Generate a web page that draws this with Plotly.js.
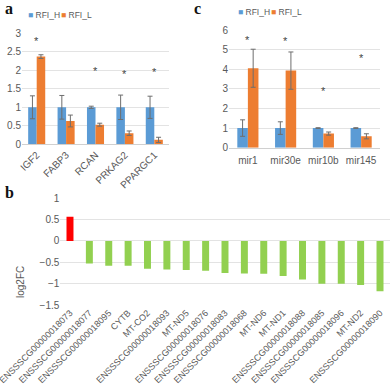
<!DOCTYPE html>
<html>
<head>
<meta charset="utf-8">
<script src="https://cdn.plot.ly/plotly-3.0.1.min.js"></script>
<style>
  html, body { margin: 0; padding: 0; background: #fff; }
  #chart { width: 392px; height: 391px; }
</style>
</head>
<body>
<div id="chart"></div>
<script>
// Panel a: mRNA relative expression
const genesA = ['IGF2', 'FABP3', 'RCAN', 'PRKAG2', 'PPARGC1'];
const rfiHA = [1, 1, 1, 1, 1];
const rfiHAErr = [0.31, 0.32, 0.03, 0.33, 0.30];
const rfiLA = [2.37, 0.63, 0.53, 0.30, 0.12];
const rfiLAErr = [0.05, 0.16, 0.04, 0.06, 0.07];
const starA = [2.87, null, 2.07, 1.98, 2.03];

// Panel c: miRNA relative expression
const mirC = ['mir1', 'mir30e', 'mir10b', 'mir145'];
const rfiHC = [1, 1, 1, 1];
const rfiHCErr = [0.42, 0.32, 0.02, 0.02];
const rfiLC = [4.05, 3.93, 0.72, 0.58];
const rfiLCErr = [0.97, 0.95, 0.08, 0.13];
const starC = [5.66, 5.58, 3.05, 4.73];

// Panel b: log2 fold change
const genesB = ['ENSSSCG00000018073', 'ENSSSCG00000018077', 'ENSSSCG00000018095', 'CYTB',
  'MT-CO2', 'ENSSSCG00000018093', 'MT-ND5', 'ENSSSCG00000018076', 'ENSSSCG00000018083',
  'ENSSSCG00000018068', 'MT-ND6', 'MT-ND1', 'ENSSSCG00000018088', 'ENSSSCG00000018085',
  'ENSSSCG00000018096', 'MT-ND2', 'ENSSSCG00000018090'];
const log2FC = [0.57, -0.53, -0.58, -0.58, -0.65, -0.67, -0.68, -0.70, -0.75, -0.76,
  -0.77, -0.82, -0.90, -1.00, -1.00, -1.03, -1.18];

const BLUE = '#5B9BD5', ORANGE = '#ED7D31', GREEN = '#92D050', RED = '#FF0000';
const TXT = '#595959', GRID = '#E3E3E3', ERR = '#6E6E6E';
const FONT = 'Liberation Sans, Arial, sans-serif';

function errBars(arr) {
  return { type: 'data', array: arr, visible: true, color: ERR, thickness: 1, width: 2.5 };
}

const traces = [
  { type: 'bar', x: genesA, y: rfiHA, name: 'RFI_H', marker: { color: BLUE },
    width: 0.29, offset: -0.29, error_y: errBars(rfiHAErr), xaxis: 'x', yaxis: 'y',
    showlegend: false, hoverinfo: 'x+y' },
  { type: 'bar', x: genesA, y: rfiLA, name: 'RFI_L', marker: { color: ORANGE },
    width: 0.29, offset: 0, error_y: errBars(rfiLAErr), xaxis: 'x', yaxis: 'y',
    showlegend: false, hoverinfo: 'x+y' },
  { type: 'bar', x: mirC, y: rfiHC, name: 'RFI_H', marker: { color: BLUE },
    width: 0.28, offset: -0.28, error_y: errBars(rfiHCErr), xaxis: 'x2', yaxis: 'y2',
    showlegend: false, hoverinfo: 'x+y' },
  { type: 'bar', x: mirC, y: rfiLC, name: 'RFI_L', marker: { color: ORANGE },
    width: 0.28, offset: 0, error_y: errBars(rfiLCErr), xaxis: 'x2', yaxis: 'y2',
    showlegend: false, hoverinfo: 'x+y' },
  { type: 'bar', x: genesB, y: log2FC, name: 'log2FC',
    marker: { color: log2FC.map(v => v > 0 ? RED : GREEN) },
    width: 0.36, xaxis: 'x3', yaxis: 'y3', showlegend: false, hoverinfo: 'x+y' }
];

// significance marks
const annotations = [];
genesA.forEach((g, i) => {
  if (starA[i] !== null) annotations.push({ x: g, y: starA[i], xref: 'x', yref: 'y',
    text: '*', showarrow: false, yshift: -3, font: { size: 11, color: '#444', family: FONT } });
});
mirC.forEach((m, i) => {
  annotations.push({ x: m, y: starC[i], xref: 'x2', yref: 'y2',
    text: '*', showarrow: false, yshift: -3, font: { size: 11, color: '#444', family: FONT } });
});

// series keys
function key(x, y, color, label) {
  annotations.push({ xref: 'paper', yref: 'paper', x: x, y: y, xanchor: 'left', yanchor: 'middle',
    showarrow: false, text: '<span style="color:' + color + '">■</span> ' + label,
    font: { size: 8.5, color: TXT, family: FONT } });
}
key(26 / 392, 1 - 15 / 391, BLUE, 'RFI_H');
key(59 / 392, 1 - 15 / 391, ORANGE, 'RFI_L');
key(236 / 392, 1 - 12 / 391, BLUE, 'RFI_H');
key(269 / 392, 1 - 12 / 391, ORANGE, 'RFI_L');

// panel letters
[['a', 3, 9], ['c', 192, 9], ['b', 3, 193]].forEach(([t, px, py]) => {
  annotations.push({ xref: 'paper', yref: 'paper', x: px / 392, y: 1 - py / 391,
    xanchor: 'left', yanchor: 'middle', showarrow: false, text: '<b>' + t + '</b>',
    font: { size: 16, color: '#111', family: 'Liberation Serif, serif' } });
});

// y title for panel b
annotations.push({ xref: 'paper', yref: 'paper', x: 20 / 392, y: 1 - 282 / 391,
  xanchor: 'center', yanchor: 'middle', showarrow: false, text: 'log2FC', textangle: -90,
  font: { size: 10, color: TXT, family: FONT } });

const tickFont = { size: 10, color: TXT, family: FONT };
const yCommon = { showgrid: true, gridcolor: GRID, gridwidth: 1, zeroline: false,
  showline: false, ticks: '', tickfont: tickFont, fixedrange: true };
const xCommon = { showgrid: false, zeroline: false, showline: true, linecolor: '#D0D0D0',
  linewidth: 1, ticks: '', tickfont: tickFont, fixedrange: true };

const layout = {
  width: 392, height: 391,
  margin: { l: 0, r: 0, t: 0, b: 0 },
  paper_bgcolor: '#fff', plot_bgcolor: '#fff',
  barmode: 'group',
  showlegend: false,
  font: { family: FONT, color: TXT },
  xaxis: Object.assign({}, xCommon, { domain: [22 / 392, 169 / 392], anchor: 'y',
    tickangle: -45 }),
  yaxis: Object.assign({}, yCommon, { domain: [1 - 144.3 / 391, 1 - 33.3 / 391], anchor: 'x',
    range: [0, 3], dtick: 0.5, tick0: 0 }),
  xaxis2: Object.assign({}, xCommon, { domain: [229 / 392, 380 / 392], anchor: 'y2',
    tickangle: 0, ticklabelstandoff: 3 }),
  yaxis2: Object.assign({}, yCommon, { domain: [1 - 147.7 / 391, 1 - 30 / 391], anchor: 'x2',
    range: [0, 6], dtick: 1, tick0: 0 }),
  xaxis3: Object.assign({}, xCommon, { domain: [60.3 / 392, 389.7 / 392], anchor: 'y3',
    tickangle: -45, showline: false, tickfont: { size: 9, color: TXT, family: FONT } }),
  yaxis3: Object.assign({}, yCommon, { domain: [1 - 305 / 391, 1 - 198.3 / 391], anchor: 'x3',
    range: [-1.5, 1], dtick: 0.5, tick0: 0 }),
  annotations: annotations
};

Plotly.newPlot('chart', traces, layout, { staticPlot: true, displayModeBar: false });
</script>
</body>
</html>
